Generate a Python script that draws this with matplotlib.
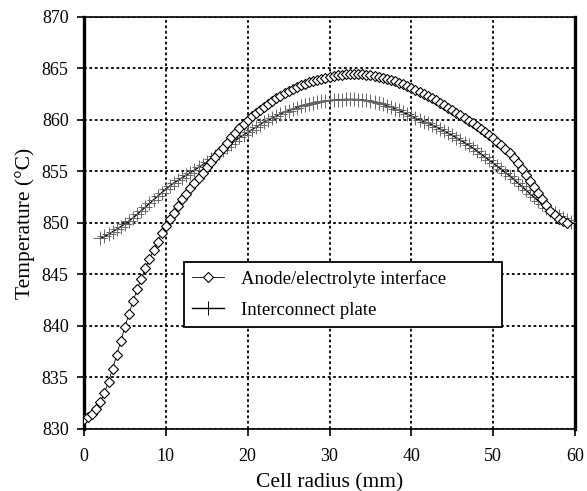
import matplotlib
matplotlib.use('Agg')
import matplotlib.pyplot as plt

plt.rcParams['font.family'] = ['Liberation Serif', 'DejaVu Serif']

# temperature along the cell radius (0.5 mm steps)
anode_r = [0, 0.5, 1, 1.5, 2, 2.5, 3, 3.5, 4, 4.5, 5, 5.5, 6, 6.5, 7, 7.5, 8, 8.5, 9, 9.5,
           10, 10.5, 11, 11.5, 12, 12.5, 13, 13.5, 14, 14.5, 15, 15.5, 16, 16.5, 17, 17.5,
           18, 18.5, 19, 19.5, 20, 20.5, 21, 21.5, 22, 22.5, 23, 23.5, 24, 24.5, 25, 25.5,
           26, 26.5, 27, 27.5, 28, 28.5, 29, 29.5, 30, 30.5, 31, 31.5, 32, 32.5, 33, 33.5,
           34, 34.5, 35, 35.5, 36, 36.5, 37, 37.5, 38, 38.5, 39, 39.5, 40, 40.5, 41, 41.5,
           42, 42.5, 43, 43.5, 44, 44.5, 45, 45.5, 46, 46.5, 47, 47.5, 48, 48.5, 49, 49.5,
           50, 50.5, 51, 51.5, 52, 52.5, 53, 53.5, 54, 54.5, 55, 55.5, 56, 56.5, 57, 57.5,
           58, 58.5, 59]
anode_t = [831.0, 831.15, 831.5, 831.95, 832.6, 833.5, 834.6, 835.85, 837.2, 838.55,
           839.9, 841.2, 842.4, 843.55, 844.6, 845.6, 846.5, 847.4, 848.2, 849.0,
           849.7, 850.35, 851.0, 851.65, 852.3, 852.85, 853.4, 853.9, 854.4, 854.9,
           855.4, 855.9, 856.4, 856.85, 857.3, 857.8, 858.3, 858.75, 859.2, 859.6,
           860.0, 860.35, 860.7, 861.0, 861.3, 861.6, 861.85, 862.1, 862.35, 862.6,
           862.8, 863.0, 863.2, 863.35, 863.5, 863.65, 863.8, 863.9, 864.0, 864.1,
           864.2, 864.28, 864.35, 864.4, 864.45, 864.48, 864.5, 864.48, 864.45, 864.4,
           864.35, 864.28, 864.2, 864.1, 864.0, 863.88, 863.75, 863.6, 863.45, 863.28,
           863.1, 862.93, 862.75, 862.55, 862.35, 862.13, 861.9, 861.68, 861.45, 861.2,
           860.95, 860.7, 860.45, 860.2, 859.95, 859.68, 859.4, 859.13, 858.85, 858.55,
           858.25, 857.9, 857.55, 857.15, 856.75, 856.3, 855.8, 855.25, 854.7, 854.1,
           853.5, 852.9, 852.3, 851.75, 851.2, 850.75, 850.4, 850.15, 850.0]

plate_r = [2, 2.5, 3, 3.5, 4, 4.5, 5, 5.5, 6, 6.5, 7, 7.5, 8, 8.5, 9, 9.5,
           10, 10.5, 11, 11.5, 12, 12.5, 13, 13.5, 14, 14.5, 15, 15.5, 16, 16.5, 17, 17.5,
           18, 18.5, 19, 19.5, 20, 20.5, 21, 21.5, 22, 22.5, 23, 23.5, 24, 24.5, 25, 25.5,
           26, 26.5, 27, 27.5, 28, 28.5, 29, 29.5, 30, 30.5, 31, 31.5, 32, 32.5, 33, 33.5,
           34, 34.5, 35, 35.5, 36, 36.5, 37, 37.5, 38, 38.5, 39, 39.5, 40, 40.5, 41, 41.5,
           42, 42.5, 43, 43.5, 44, 44.5, 45, 45.5, 46, 46.5, 47, 47.5, 48, 48.5, 49, 49.5,
           50, 50.5, 51, 51.5, 52, 52.5, 53, 53.5, 54, 54.5, 55, 55.5, 56, 56.5, 57, 57.5,
           58, 58.5, 59, 59.5]
plate_t = [848.5, 848.7, 848.9, 849.15, 849.4, 849.65, 849.9, 850.2, 850.5, 850.85,
           851.2, 851.55, 851.9, 852.25, 852.6, 852.95, 853.3, 853.6, 853.9, 854.15,
           854.4, 854.65, 854.9, 855.15, 855.4, 855.65, 855.9, 856.2, 856.5, 856.8,
           857.1, 857.4, 857.7, 858.0, 858.3, 858.55, 858.8, 859.05, 859.3, 859.55,
           859.8, 860.0, 860.2, 860.4, 860.6, 860.75, 860.9, 861.05, 861.2, 861.33,
           861.45, 861.55, 861.65, 861.73, 861.8, 861.85, 861.9, 861.93, 861.95, 861.98,
           862.0, 862.0, 862.0, 861.98, 861.95, 861.9, 861.85, 861.75, 861.65, 861.53,
           861.4, 861.25, 861.1, 860.93, 860.75, 860.58, 860.4, 860.2, 860.0, 859.85,
           859.7, 859.53, 859.35, 859.15, 858.95, 858.73, 858.5, 858.28, 858.05, 857.8,
           857.55, 857.28, 857.0, 856.7, 856.4, 856.1, 855.8, 855.5, 855.2, 854.9,
           854.6, 854.25, 853.9, 853.55, 853.2, 852.85, 852.5, 852.15, 851.8, 851.5,
           851.2, 850.95, 850.7, 850.5, 850.3, 850.1]

x_ticks = [0, 10, 20, 30, 40, 50, 60]
y_ticks = [830, 835, 840, 845, 850, 855, 860, 865, 870]

fig = plt.figure(figsize=(5.87, 4.91), dpi=100)
ax = fig.add_axes([0.1431, 0.1263, 0.8365, 0.8391])

ax.plot(plate_r, plate_t, color='black', lw=1.0, marker='+', markersize=10,
        markeredgecolor='#666666', markeredgewidth=0.7, label='Interconnect plate', zorder=3)
ax.plot(anode_r, anode_t, color='black', lw=0.6, marker='D', markersize=4.6,
        markerfacecolor='white', markeredgecolor='black', markeredgewidth=0.8,
        label='Anode/electrolyte interface', zorder=4)

ax.set_xlim(0, 60)
ax.set_ylim(830, 870)
ax.set_xticks(x_ticks)
ax.set_yticks(y_ticks)
ax.grid(True, color='black', linestyle=(0, (1.5, 1.5)), linewidth=1.3)
ax.set_axisbelow(True)

for side in ['left', 'right']:
    ax.spines[side].set_linewidth(2.4)
for side in ['top', 'bottom']:
    ax.spines[side].set_linewidth(1.2)

ax.tick_params(direction='out', length=5, width=1.2, labelsize=13)
ax.tick_params(axis='x', pad=8.5)
ax.tick_params(axis='y', pad=6)
ax.set_xlabel('Cell radius (mm)', fontsize=15.5, labelpad=6)
ax.set_ylabel('Temperature (\u00b0C)', fontsize=15.5, labelpad=5)

handles, labels = ax.get_legend_handles_labels()
leg = ax.legend(handles[::-1], labels[::-1], loc='upper left', mode='expand',
                bbox_to_anchor=(0.2037, 0.2476, 0.6477, 0.158), borderaxespad=0,
                fontsize=13.5, fancybox=False, framealpha=1, edgecolor='black',
                handlelength=1.7, handletextpad=0.9, labelspacing=0.75,
                borderpad=0.42, markerscale=1.0)
leg.get_frame().set_linewidth(1.3)
for h in leg.legend_handles:
    h.set_markeredgecolor('black')

fig.savefig('out.png', dpi=100)
